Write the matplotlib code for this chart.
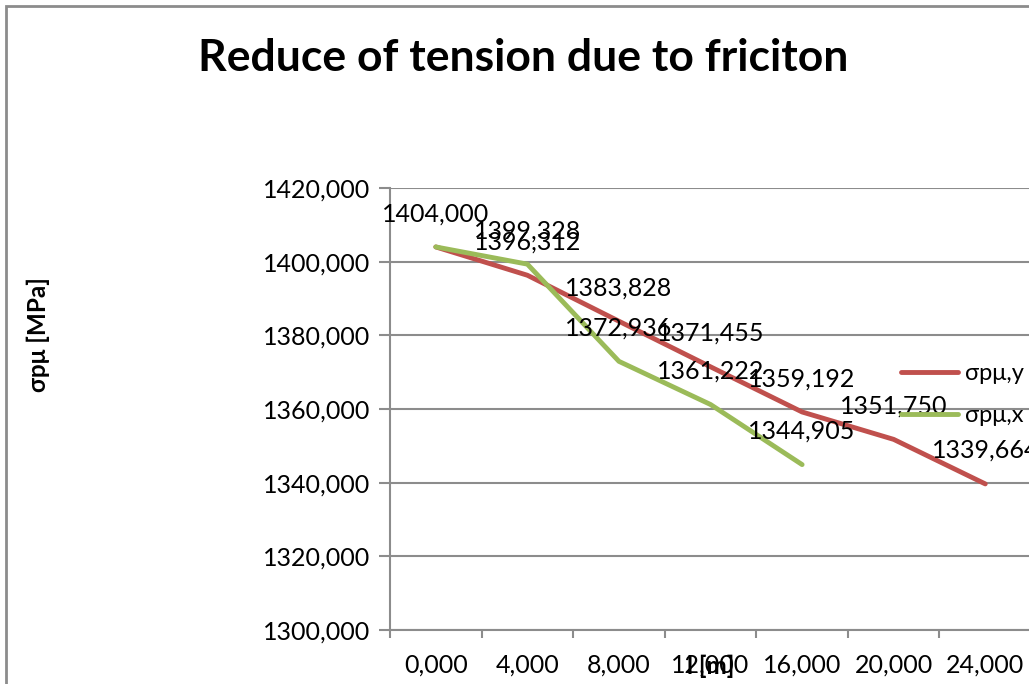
import matplotlib.pyplot as plt
from matplotlib.patches import Rectangle

plt.rcParams['font.family'] = ['Lato', 'DejaVu Sans']

categorias = ["0,000", "4,000", "8,000", "12,000", "16,000", "20,000", "24,000"]
sigma_y = [1404.000, 1396.312, 1383.828, 1371.455, 1359.192, 1351.750, 1339.664]
sigma_x = [1404.000, 1399.328, 1372.936, 1361.222, 1344.905]
yticks = [1300, 1320, 1340, 1360, 1380, 1400, 1420]

vermelho = "#C0504D"
verde = "#9BBB59"
cinza = "#8C8C8C"


def fmt(v):
    return f"{v:.3f}".replace(".", ",")


fig = plt.figure(figsize=(10.29, 6.84), dpi=100)
ax = fig.add_axes([390/1029, 1 - 630/684, 1 - 390/1029 + 0.002, (630 - 188)/684])

xs_y = list(range(len(sigma_y)))
xs_x = list(range(len(sigma_x)))
ax.plot(xs_y, sigma_y, color=vermelho, lw=3.5, label="σpμ,y", solid_capstyle="round", zorder=3)
ax.plot(xs_x, sigma_x, color=verde, lw=3.5, label="σpμ,x", solid_capstyle="round", zorder=3)

for x, v in zip(xs_y, sigma_y):
    ax.annotate(fmt(v), (x, v), xytext=(0, 24), textcoords="offset points",
                ha="center", va="center", fontsize=18, zorder=4)
for x, v in zip(xs_x, sigma_x):
    if x == 0:
        continue
    ax.annotate(fmt(v), (x, v), xytext=(0, 24), textcoords="offset points",
                ha="center", va="center", fontsize=18, zorder=4)

ax.set_xlim(-0.5, len(categorias) - 0.5)
ax.set_ylim(1300, 1420)
ax.set_yticks(yticks)
ax.set_yticklabels([fmt(v) for v in yticks], fontsize=18)
ax.set_xticks(range(len(categorias)))
ax.set_xticklabels(categorias, fontsize=18)
ax.set_xticks([i - 0.5 for i in range(len(categorias) + 1)], minor=True)
ax.tick_params(axis="x", which="major", length=0, pad=17)
ax.tick_params(axis="x", which="minor", length=6, color=cinza, width=1.5)
ax.tick_params(axis="y", length=8, color=cinza, width=1.5, pad=6)

ax.grid(axis="y", color=cinza, lw=1.5)
ax.set_axisbelow(True)
for s in ["top", "right"]:
    ax.spines[s].set_visible(False)
for s in ["left", "bottom"]:
    ax.spines[s].set_color(cinza)
    ax.spines[s].set_linewidth(1.5)

ax.set_xlabel("l [m]", fontsize=17.5, fontweight="bold", labelpad=-16)
fig.text(38/1029, 1 - 335/684, "σpμ [MPa]", rotation=90, fontsize=17.5,
         fontweight="bold", ha="center", va="center")
fig.text(523/1029, 1 - 58/684, "Reduce of tension due to friciton", fontsize=32,
         fontweight="bold", ha="center", va="center")

ax.legend(loc="upper left", bbox_to_anchor=(880/1029, 1 - 342/684),
          bbox_transform=fig.transFigure, frameon=False, fontsize=17,
          handlelength=2.4, labelspacing=0.9, handletextpad=0.3)

fig.patches.append(Rectangle((6/1029, -0.1), 1.2, 1 - 6/684 + 0.1, transform=fig.transFigure,
                             fill=False, edgecolor=cinza, lw=2))

fig.savefig("out.png", dpi=100)
